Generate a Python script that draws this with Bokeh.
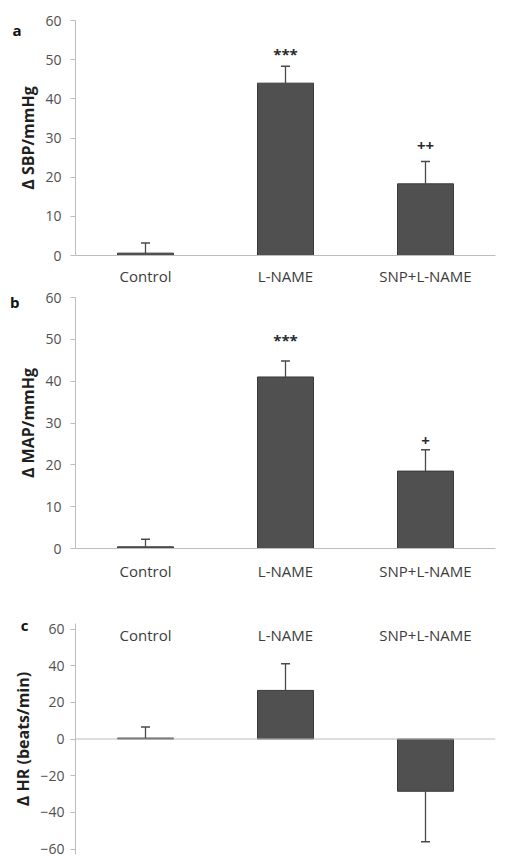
from bokeh.plotting import figure
from bokeh.models import (Range1d, FactorRange, Span, ColumnDataSource,
                          FixedTicker, LinearAxis)
from bokeh.layouts import column
from bokeh.embed import file_html
from bokeh.resources import INLINE
from bokeh.core.properties import value

# ---------------- data ----------------
categories = ["Control", "L-NAME", "SNP+L-NAME"]

sbp_mean = [0.6, 44.0, 18.3]
sbp_sem = [2.6, 4.3, 5.7]
sbp_sig = ["", "***", "++"]

map_mean = [0.4, 41.0, 18.5]
map_sem = [1.8, 3.8, 5.1]
map_sig = ["", "***", "+"]

hr_mean = [0.5, 26.5, -28.5]
hr_sem = [6.0, 14.5, 27.5]
hr_sig = ["", "", ""]

bp_ticks = [0, 10, 20, 30, 40, 50, 60]
hr_ticks = [-60, -40, -20, 0, 20, 40, 60]

# ---------------- style ----------------
FONT = "Open Sans"
AXIS_GRAY = "#bdbdbd"
BAR_FILL = "#505050"
BAR_LINE = "#3a3a3a"
ERR_COLOR = "#4a4a4a"
TICK_COLOR = "#505050"
CAT_COLOR = "#3c3c3c"
LABEL_COLOR = "#1f1f1f"


def panel(letter, ylabel, means, sems, sigs, ticks, yr, width, height,
          borders, sig_gaps, letter_y, letter_standoff, x_side,
          cat_standoff, tick_standoff):
    tips = [m + s if m >= 0 else m - s for m, s in zip(means, sems)]
    src = ColumnDataSource(dict(x=categories, mean=means, tip=tips,
                                sig=sigs, gap=sig_gaps))
    p = figure(x_range=FactorRange(*categories), y_range=Range1d(*yr),
               width=width, height=height, output_backend="svg",
               toolbar_location=None, x_axis_location=x_side,
               min_border_top=borders[0], min_border_right=borders[1],
               min_border_bottom=borders[2], min_border_left=borders[3])
    p.outline_line_color = None
    p.xgrid.visible = False
    p.ygrid.visible = False

    p.vbar(x="x", top="mean", bottom=0, width=0.4, source=src,
           fill_color=BAR_FILL, line_color=BAR_LINE, line_width=1)
    p.segment(x0="x", y0="mean", x1="x", y1="tip", source=src,
              line_color=ERR_COLOR, line_width=1.3)
    p.scatter(x="x", y="tip", marker="dash", size=9, source=src,
              line_color=ERR_COLOR, line_width=1.5)
    p.text(x="x", y="tip", text="sig", y_offset="gap", source=src,
           text_font=value(FONT), text_font_style="bold",
           text_font_size="15px", text_color="#2a2a2a",
           text_align="center", text_baseline="middle")

    ya = p.yaxis[0]
    ya.ticker = FixedTicker(ticks=ticks)
    ya.axis_line_color = AXIS_GRAY
    ya.major_tick_line_color = AXIS_GRAY
    ya.minor_tick_line_color = None
    ya.major_tick_out = 5
    ya.major_tick_in = 0
    ya.major_label_standoff = tick_standoff
    ya.major_label_text_font = FONT
    ya.major_label_text_font_size = "14px"
    ya.major_label_text_color = TICK_COLOR
    ya.axis_label = ylabel
    ya.axis_label_text_font = FONT
    ya.axis_label_text_font_style = "bold"
    ya.axis_label_text_font_size = "16px"
    ya.axis_label_text_color = LABEL_COLOR
    ya.axis_label_standoff = 3

    xa = p.xaxis[0]
    xa.major_tick_line_color = None
    xa.minor_tick_line_color = None
    xa.major_tick_out = 0
    xa.major_tick_in = 0
    xa.major_label_standoff = cat_standoff
    xa.major_label_text_font = FONT
    xa.major_label_text_font_size = "15px"
    xa.major_label_text_color = CAT_COLOR
    if x_side == "below":
        xa.axis_line_color = AXIS_GRAY
    else:
        xa.axis_line_color = None
        p.add_layout(Span(location=0, dimension="width",
                          line_color=AXIS_GRAY, line_width=1.2))

    # panel letter, drawn as the single label of an outer, line-less axis
    la = LinearAxis(ticker=FixedTicker(ticks=[letter_y]),
                    major_label_overrides={letter_y: letter,
                                           str(letter_y): letter},
                    axis_line_color=None, major_tick_line_color=None,
                    minor_tick_line_color=None, major_tick_out=0,
                    major_tick_in=0, major_label_standoff=letter_standoff,
                    major_label_text_font=FONT,
                    major_label_text_font_style="bold",
                    major_label_text_font_size="15px",
                    major_label_text_color="#111111")
    p.add_layout(la, "left")
    return p


pa = panel("a", "\u0394 SBP/mmHg", sbp_mean, sbp_sem, sbp_sig, bp_ticks,
           (0, 60), 511, 288, (20, 16, 31, 60), [0, -12, -16],
           57.7, -7, "below", 10, 9)
pb = panel("b", "\u0394 MAP/mmHg", map_mean, map_sem, map_sig, bp_ticks,
           (0, 60), 511, 310, (9, 0, 50, 59), [0, -21, -9],
           59.0, -5, "below", 12, 9)
pc = panel("c", "\u0394 HR (beats/min)", hr_mean, hr_sem, hr_sig, hr_ticks,
           (-63, 63), 511, 259, (25, 2, 3, 75), [0, 0, 0],
           62.0, -19, "above", -21, 6)

layout = column(pa, pb, pc, spacing=0)
open("out.html", "w").write(file_html(layout, INLINE))
